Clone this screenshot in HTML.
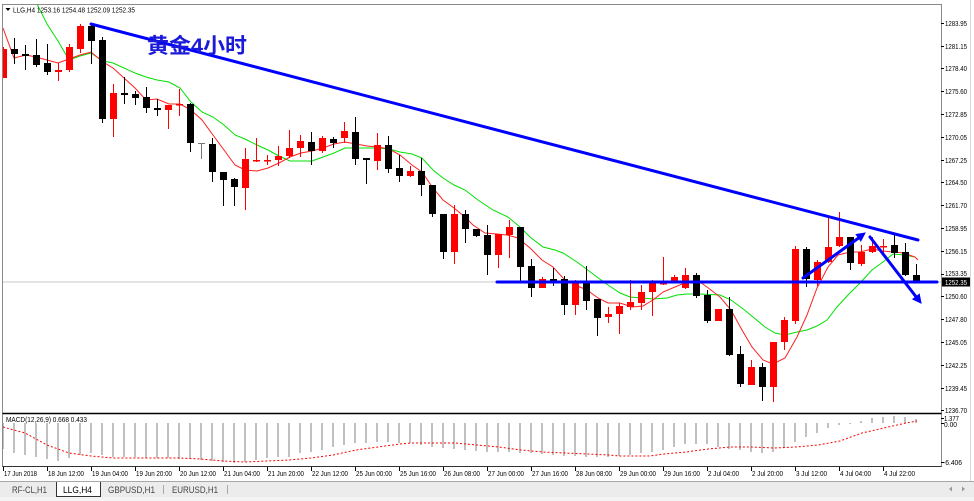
<!DOCTYPE html>
<html><head><meta charset="utf-8"><style>
html,body{margin:0;padding:0;background:#fff;}
svg{display:block;font-family:"Liberation Sans","Noto Sans CJK SC",sans-serif;}
</style></head><body>
<svg width="974" height="501" viewBox="0 0 974 501" xmlns="http://www.w3.org/2000/svg">
<defs>
<clipPath id="mc"><rect x="3" y="5" width="938" height="408"/></clipPath>
<clipPath id="sc"><rect x="3" y="414" width="938" height="52"/></clipPath>
</defs>
<rect width="974" height="501" fill="#fff"/>
<line x1="970.5" y1="0" x2="970.5" y2="481" stroke="#d8d8d8"/>

<g clip-path="url(#mc)">
<line x1="3" y1="282" x2="941" y2="282" stroke="#c8c8c8" stroke-width="1"/>
<!-- MAs -->
<polyline fill="none" stroke="#00e000" stroke-width="1" points="34,-2 47,24 58,41 69,60 80,56 91,53 103,61 113,63 124,68 135,73 146,77 157,80 169,82 180,88 191,102 202,112 213,117 224,125 235,135 245,139 257,145 268,150 279,156 290,161 301,161 312,161 323,157 334,153 345,148 356,148 367,148 378,148 389,149 400,152 412,154 422,158 433,170 443,178 454,185 465,190 478,200 493,210 508,217 520,227 530,237 543,247 555,250 563,253 577,262 597,277 608,285 620,293 630,297 643,298 653,299 667,298 677,295 687,294 700,294 720,295 731,300 742,308 753,317 765,327 775,333 785,335 797,332 807,330 817,326 827,320 837,307 848,295 860,283 872,270 883,262 893,254 904,255 915,257"/>
<polyline fill="none" stroke="#ff2020" stroke-width="1" points="3,28 14,58 26,55 36,57 47,60 58,63 69,59 80,55 91,52 103,62 113,68 124,78 135,88 146,100 157,99 169,104 180,104 191,110 202,120 213,135 224,150 235,165 245,170 257,171 268,168 279,163 290,157 301,153 312,151 323,148 334,144 345,142 356,144 367,146 378,147 389,149 400,155 412,165 422,172 433,188 443,200 454,208 465,217 473,225 485,233 497,234 507,235 518,238 530,248 542,260 553,267 563,278 575,285 587,290 598,298 608,303 620,303 632,307 643,306 653,300 663,292 675,287 687,282 697,280 707,287 720,297 731,310 742,330 752,347 763,360 773,364 785,358 797,337 807,315 817,288 828,267 838,255 850,252 860,252 872,249 883,251 893,252 904,253 915,257 918,260"/>
<!-- red wicks -->
<path fill="none" stroke="#ff0000" stroke-width="1" d="M3.5 47V78M58.5 63V81M69.5 44V72M80.5 24V53M113.5 84V137M168.5 105V129M179.5 89V116M245.5 148V210M256.5 138V162M267.5 155V165M278.5 146V166M289.5 130V158M300.5 135V157M322.5 136V153M344.5 122V143M377.5 133V170M410.5 166V177M454.5 205V264M498.5 234V268M509.5 220V258M542.5 277V288M575.5 280V315M608.5 307V323M619.5 303V334M630.5 280V310M641.5 285V310M652.5 280V316M663.5 257V285M674.5 275V283M685.5 268V289M718.5 309V321M751.5 360V385M773.5 342V402M784.5 317V350M795.5 246V324M817.5 260V286M828.5 217V263M839.5 212V247M861.5 245V266M872.5 237V253M883.5 239V253"/>
<!-- black wicks -->
<path fill="none" stroke="#000" stroke-width="1" d="M14.5 38V64M25.5 45V70M36.5 39V67M47.5 44V75M91.5 23V64M102.5 37V123M124.5 77V104M135.5 91V105M146.5 87V113M157.5 99V116M190.5 103V152M212.5 138V182M223.5 172V206M234.5 178V206M311.5 132V165M333.5 137V148M355.5 117V165M366.5 158V184M388.5 136V173M399.5 155V182M421.5 158V196M432.5 185V217M443.5 214V259M465.5 210V243M476.5 229V237M487.5 225V275M520.5 227V281M531.5 259V297M553.5 268V286M564.5 276V315M586.5 266V310M597.5 299V336M696.5 273V298M707.5 290V323M729.5 297V356M740.5 346V387M762.5 363V401M806.5 247V287M850.5 237V270M894.5 234V258M905.5 243V276M916.5 264V283"/>
<path fill="none" stroke="#777" stroke-width="1" d="M201.5 143V159M198 143.5H205"/>
<!-- red bodies -->
<g fill="#ff0000">
<rect x="0" y="49" width="7" height="29"/>
<rect x="55" y="70" width="7" height="2"/>
<rect x="66" y="47" width="7" height="23"/>
<rect x="77" y="26" width="7" height="23"/>
<rect x="110" y="93" width="7" height="26"/>
<rect x="165" y="105" width="7" height="5"/>
<rect x="176" y="104" width="7" height="1.5"/>
<rect x="242" y="159" width="7" height="29"/>
<rect x="253" y="160" width="7" height="1.5"/>
<rect x="264" y="160" width="7" height="1.5"/>
<rect x="275" y="156" width="7" height="4"/>
<rect x="286" y="148" width="7" height="8"/>
<rect x="297" y="141" width="7" height="7"/>
<rect x="319" y="138" width="7" height="13"/>
<rect x="341" y="131" width="7" height="7"/>
<rect x="374" y="145" width="7" height="16"/>
<rect x="407" y="171" width="7" height="5"/>
<rect x="451" y="214" width="7" height="38"/>
<rect x="495" y="234" width="7" height="21"/>
<rect x="506" y="227" width="7" height="8"/>
<rect x="539" y="279" width="7" height="9"/>
<rect x="572" y="283" width="7" height="22"/>
<rect x="605" y="314" width="7" height="3"/>
<rect x="616" y="306" width="7" height="8"/>
<rect x="627" y="302" width="7" height="5"/>
<rect x="638" y="292" width="7" height="11"/>
<rect x="649" y="283" width="7" height="9"/>
<rect x="660" y="283" width="7" height="1.5"/>
<rect x="671" y="277" width="7" height="4"/>
<rect x="682" y="275" width="7" height="13"/>
<rect x="715" y="309" width="7" height="12"/>
<rect x="748" y="367" width="7" height="18"/>
<rect x="770" y="342" width="7" height="45"/>
<rect x="781" y="320" width="7" height="22"/>
<rect x="792" y="249" width="7" height="72"/>
<rect x="814" y="262" width="7" height="18"/>
<rect x="825" y="247" width="7" height="15"/>
<rect x="836" y="237" width="7" height="9"/>
<rect x="858" y="252" width="7" height="12"/>
<rect x="869" y="246" width="7" height="6"/>
<rect x="880" y="246" width="7" height="1.5"/>
</g>
<!-- black bodies -->
<g fill="#000">
<rect x="11" y="49" width="7" height="5"/>
<rect x="22" y="54" width="7" height="2"/>
<rect x="33" y="55" width="7" height="10"/>
<rect x="44" y="63" width="7" height="9"/>
<rect x="88" y="26" width="7" height="15"/>
<rect x="99" y="40" width="7" height="79"/>
<rect x="121" y="93" width="7" height="2"/>
<rect x="132" y="94" width="7" height="4"/>
<rect x="143" y="97" width="7" height="11"/>
<rect x="154" y="108" width="7" height="2"/>
<rect x="187" y="104" width="7" height="39"/>
<rect x="209" y="144" width="7" height="28"/>
<rect x="220" y="172" width="7" height="8"/>
<rect x="231" y="179" width="7" height="8"/>
<rect x="308" y="142" width="7" height="9"/>
<rect x="330" y="139" width="7" height="4"/>
<rect x="352" y="132" width="7" height="27"/>
<rect x="363" y="158" width="7" height="2"/>
<rect x="385" y="145" width="7" height="24"/>
<rect x="396" y="168" width="7" height="8"/>
<rect x="418" y="171" width="7" height="14"/>
<rect x="429" y="185" width="7" height="29"/>
<rect x="440" y="214" width="7" height="38"/>
<rect x="462" y="214" width="7" height="15"/>
<rect x="473" y="229" width="7" height="7"/>
<rect x="484" y="235" width="7" height="20"/>
<rect x="517" y="227" width="7" height="40"/>
<rect x="528" y="266" width="7" height="22"/>
<rect x="550" y="279" width="7" height="1.5"/>
<rect x="561" y="279" width="7" height="26"/>
<rect x="583" y="282" width="7" height="19"/>
<rect x="594" y="299" width="7" height="19"/>
<rect x="693" y="275" width="7" height="21"/>
<rect x="704" y="295" width="7" height="26"/>
<rect x="726" y="309" width="7" height="46"/>
<rect x="737" y="354" width="7" height="30"/>
<rect x="759" y="367" width="7" height="20"/>
<rect x="803" y="249" width="7" height="30"/>
<rect x="847" y="237" width="7" height="26"/>
<rect x="891" y="245" width="7" height="8"/>
<rect x="902" y="252" width="7" height="23"/>
<rect x="913" y="275" width="7" height="6"/>
</g>
<!-- blue objects -->
<g stroke="#0000ff" stroke-width="3" fill="none" stroke-linecap="round">
<line x1="91" y1="24" x2="918" y2="240"/>
<line x1="497" y1="282" x2="937" y2="282"/>
<line x1="803" y1="278" x2="860" y2="237"/>
<line x1="870" y1="237" x2="917" y2="298"/>
</g>
<g fill="#0000ff" stroke="#0000ff" stroke-width="1">
<polygon points="865,233 860.8,240.9 856.2,234.5"/>
<polygon points="921,303 912.9,299.1 919.3,294.3"/>
</g>
<text x="147" y="53" font-size="21" font-weight="bold" fill="#1a1ad8" textLength="100" lengthAdjust="spacingAndGlyphs" font-family="'Liberation Sans','Noto Sans CJK SC',sans-serif">黄金4小时</text>
</g>

<!-- header -->
<polygon points="5.5,8 10.5,8 8,11" fill="#000"/>
<text x="13" y="12.5" font-size="7.5" fill="#000" textLength="122" lengthAdjust="spacingAndGlyphs">LLG,H4 1253.16 1254.48 1252.09 1252.35</text>

<!-- MACD -->
<g clip-path="url(#sc)">
<path fill="none" stroke="#c0c0c0" stroke-width="2" d="M3 423V449M14 423V453M25 423V455M36 423V457M47 423V459M58 423V461M69 423V458M80 423V455M91 423V453M102 423V455M113 423V457M124 423V457M135 423V457M146 423V458M157 423V458M168 423V458M179 423V459M190 423V459M201 423V460M212 423V461M223 423V462M234 423V463M245 423V462M256 423V460M267 423V458M278 423V457M289 423V457M300 423V453M311 423V452M322 423V450M333 423V447M344 423V445M355 423V443M366 423V443M377 423V442M388 423V442M399 423V443M410 423V443M421 423V445M432 423V447M443 423V448M454 423V449M465 423V450M476 423V451M487 423V452M498 423V452M509 423V452M520 423V453M531 423V453M542 423V454M553 423V455M564 423V456M575 423V456M586 423V457M597 423V457M608 423V457M619 423V456M630 423V455M641 423V453M652 423V452M663 423V450M674 423V447M685 423V444M696 423V444M707 423V444M718 423V447M729 423V449M740 423V450M751 423V452M762 423V453M773 423V452M784 423V448M795 423V442M806 423V437M817 423V433M828 423V428M839 423V425M850 423V424M861 423V421M872 423V418M883 423V417M894 423V416M905 423V417M916 423V419"/>
<polyline fill="none" stroke="#ff0000" stroke-width="1" stroke-dasharray="2 2" points="3,427 25,433 47,445 69,453 91,456 113,458 135,458 157,458 179,458 201,459 223,461 245,462 267,461 289,460 311,458 333,455 356,450 378,447 400,444 411,443 433,443 455,443 477,445 499,447 521,450 543,452 565,453 587,454 609,455 620,456 650,456 664,454 686,452 708,449 730,447 752,447 774,448 796,447 818,445 840,441 862,433 884,428 906,423 917,421"/>
</g>
<text x="6" y="422" font-size="7.5" fill="#000" textLength="81" lengthAdjust="spacingAndGlyphs">MACD(12,26,9) 0.668 0.433</text>

<!-- frames -->
<rect x="2.5" y="4.5" width="939" height="462" fill="none" stroke="#8a8a8a" stroke-width="1"/>
<line x1="2.5" y1="413.5" x2="941.5" y2="413.5" stroke="#000" stroke-width="1.5"/>
<line x1="2.5" y1="466.5" x2="941.5" y2="466.5" stroke="#333" stroke-width="1"/>

<!-- price axis -->
<g stroke="#000" stroke-width="1">
<path d="M941 23.5h3M941 46.5h3M941 68.5h3M941 91.5h3M941 114.5h3M941 137.5h3M941 160.5h3M941 182.5h3M941 205.5h3M941 228.5h3M941 251.5h3M941 274.5h3M941 296.5h3M941 319.5h3M941 342.5h3M941 365.5h3M941 388.5h3M941 410.5h3M941 418.5h3M941 423.5h3M941 462.5h3"/>
</g>
<g font-size="7" fill="#000">
<text x="945" y="26" textLength="22" lengthAdjust="spacingAndGlyphs">1283.95</text>
<text x="945" y="49" textLength="22" lengthAdjust="spacingAndGlyphs">1281.15</text>
<text x="945" y="71" textLength="22" lengthAdjust="spacingAndGlyphs">1278.40</text>
<text x="945" y="94" textLength="22" lengthAdjust="spacingAndGlyphs">1275.60</text>
<text x="945" y="117" textLength="22" lengthAdjust="spacingAndGlyphs">1272.85</text>
<text x="945" y="140" textLength="22" lengthAdjust="spacingAndGlyphs">1270.05</text>
<text x="945" y="163" textLength="22" lengthAdjust="spacingAndGlyphs">1267.25</text>
<text x="945" y="185" textLength="22" lengthAdjust="spacingAndGlyphs">1264.50</text>
<text x="945" y="208" textLength="22" lengthAdjust="spacingAndGlyphs">1261.70</text>
<text x="945" y="231" textLength="22" lengthAdjust="spacingAndGlyphs">1258.95</text>
<text x="945" y="254" textLength="22" lengthAdjust="spacingAndGlyphs">1256.15</text>
<text x="945" y="276" textLength="22" lengthAdjust="spacingAndGlyphs">1253.35</text>
<text x="945" y="299" textLength="22" lengthAdjust="spacingAndGlyphs">1250.60</text>
<text x="945" y="322" textLength="22" lengthAdjust="spacingAndGlyphs">1247.80</text>
<text x="945" y="345" textLength="22" lengthAdjust="spacingAndGlyphs">1245.05</text>
<text x="945" y="368" textLength="22" lengthAdjust="spacingAndGlyphs">1242.25</text>
<text x="945" y="391" textLength="22" lengthAdjust="spacingAndGlyphs">1239.45</text>
<text x="945" y="413" textLength="22" lengthAdjust="spacingAndGlyphs">1236.70</text>
<text x="944" y="421" textLength="15" lengthAdjust="spacingAndGlyphs">1.377</text>
<text x="944" y="427" textLength="13" lengthAdjust="spacingAndGlyphs">0.00</text>
<text x="943" y="465" textLength="19" lengthAdjust="spacingAndGlyphs">-6.406</text>
</g>
<rect x="942" y="277.5" width="28" height="9" fill="#000"/>
<text x="945" y="285" font-size="7" fill="#fff" textLength="22" lengthAdjust="spacingAndGlyphs">1252.35</text>

<!-- time axis -->
<path stroke="#000" stroke-width="1" d="M3.5 467V471M47.5 467V471M91.5 467V471M135.5 467V471M179.5 467V471M223.5 467V471M267.5 467V471M311.5 467V471M355.5 467V471M399.5 467V471M443.5 467V471M487.5 467V471M531.5 467V471M575.5 467V471M619.5 467V471M663.5 467V471M707.5 467V471M751.5 467V471M795.5 467V471M839.5 467V471M883.5 467V471"/>
<g font-size="7.5" fill="#000">
<text x="4" y="476" textLength="33" lengthAdjust="spacingAndGlyphs">17 Jun 2018</text>
<text x="48" y="476" textLength="36" lengthAdjust="spacingAndGlyphs">18 Jun 12:00</text>
<text x="92" y="476" textLength="36" lengthAdjust="spacingAndGlyphs">19 Jun 04:00</text>
<text x="136" y="476" textLength="36" lengthAdjust="spacingAndGlyphs">19 Jun 20:00</text>
<text x="180" y="476" textLength="36" lengthAdjust="spacingAndGlyphs">20 Jun 12:00</text>
<text x="224" y="476" textLength="36" lengthAdjust="spacingAndGlyphs">21 Jun 04:00</text>
<text x="268" y="476" textLength="36" lengthAdjust="spacingAndGlyphs">21 Jun 20:00</text>
<text x="312" y="476" textLength="36" lengthAdjust="spacingAndGlyphs">22 Jun 12:00</text>
<text x="356" y="476" textLength="36" lengthAdjust="spacingAndGlyphs">25 Jun 00:00</text>
<text x="400" y="476" textLength="36" lengthAdjust="spacingAndGlyphs">25 Jun 16:00</text>
<text x="444" y="476" textLength="36" lengthAdjust="spacingAndGlyphs">26 Jun 08:00</text>
<text x="488" y="476" textLength="36" lengthAdjust="spacingAndGlyphs">27 Jun 00:00</text>
<text x="532" y="476" textLength="36" lengthAdjust="spacingAndGlyphs">27 Jun 16:00</text>
<text x="576" y="476" textLength="36" lengthAdjust="spacingAndGlyphs">28 Jun 08:00</text>
<text x="620" y="476" textLength="36" lengthAdjust="spacingAndGlyphs">29 Jun 00:00</text>
<text x="664" y="476" textLength="36" lengthAdjust="spacingAndGlyphs">29 Jun 16:00</text>
<text x="708" y="476" textLength="31" lengthAdjust="spacingAndGlyphs">2 Jul 04:00</text>
<text x="752" y="476" textLength="31" lengthAdjust="spacingAndGlyphs">2 Jul 20:00</text>
<text x="796" y="476" textLength="31" lengthAdjust="spacingAndGlyphs">3 Jul 12:00</text>
<text x="840" y="476" textLength="31" lengthAdjust="spacingAndGlyphs">4 Jul 04:00</text>
<text x="884" y="476" textLength="31" lengthAdjust="spacingAndGlyphs">4 Jul 22:00</text>
</g>

<!-- tab bar -->
<rect x="0" y="481" width="974" height="20" fill="#ececec"/>
<line x1="0" y1="481.5" x2="974" y2="481.5" stroke="#a8a8a8"/>
<rect x="0" y="497" width="974" height="4" fill="#f4f4f4"/>
<path d="M56.5 482V496.5H100.5V482" fill="#fff" stroke="#333"/>
<line x1="163.5" y1="485" x2="163.5" y2="494" stroke="#aaa"/>
<line x1="227.5" y1="485" x2="227.5" y2="494" stroke="#aaa"/>
<g font-size="9">
<text x="12" y="493" fill="#444" textLength="35" lengthAdjust="spacingAndGlyphs">RF-CL,H1</text>
<text x="63" y="493" fill="#000" textLength="29" lengthAdjust="spacingAndGlyphs">LLG,H4</text>
<text x="108" y="493" fill="#444" textLength="47" lengthAdjust="spacingAndGlyphs">GBPUSD,H1</text>
<text x="172" y="493" fill="#444" textLength="46" lengthAdjust="spacingAndGlyphs">EURUSD,H1</text>
</g>
<polygon points="952,486.5 952,491.5 949,489" fill="#999"/>
<polygon points="962,486.5 962,491.5 965,489" fill="#999"/>
</svg>
</body></html>
